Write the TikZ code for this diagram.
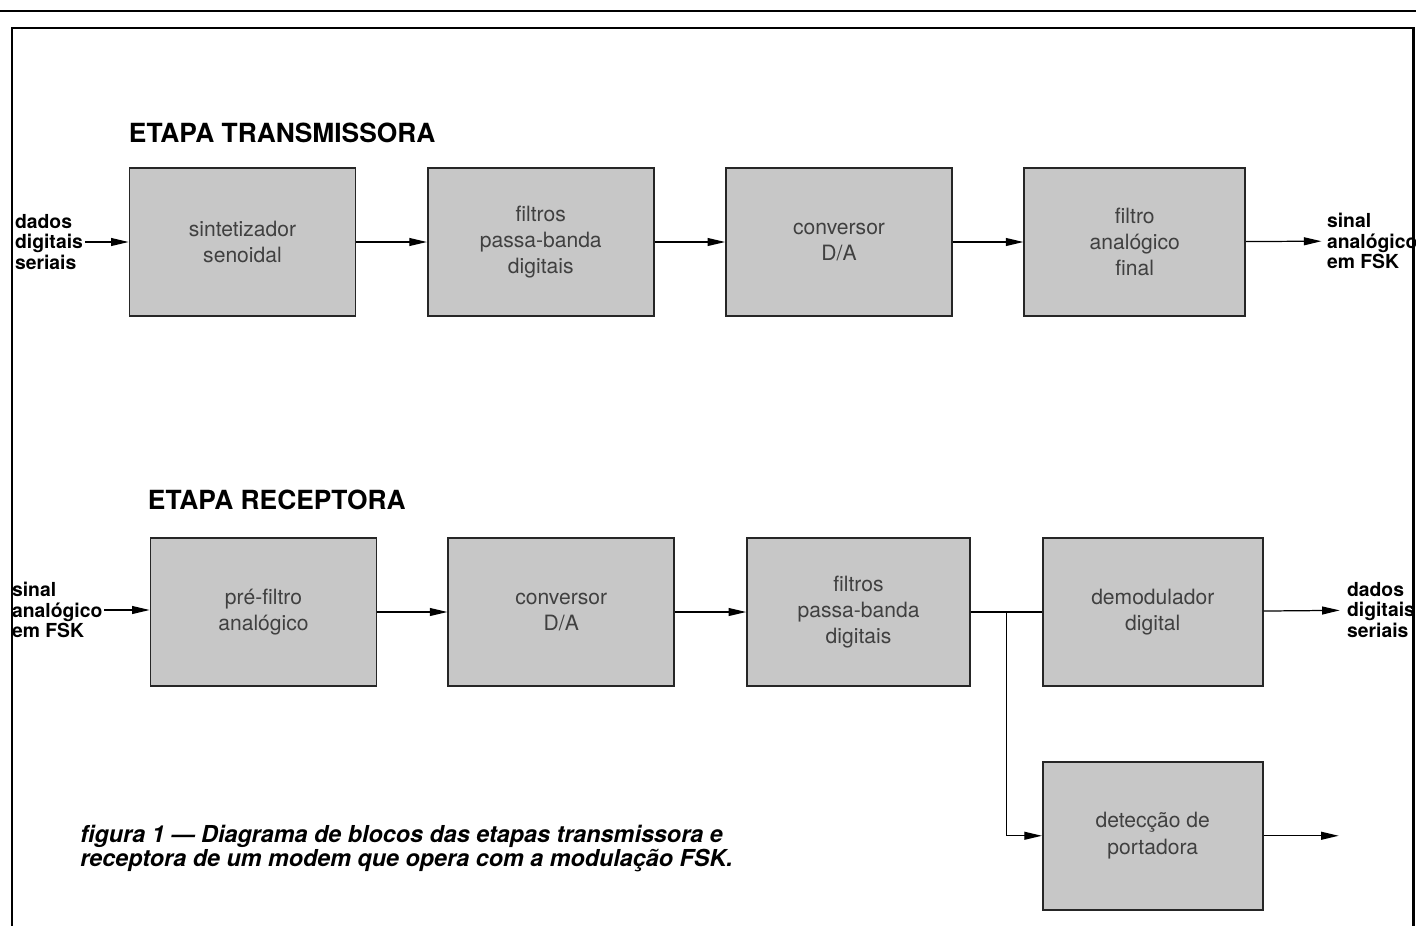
\documentclass[tikz,border=0pt]{standalone}
\usepackage{fontspec}
\setmainfont{TeX Gyre Heros}
\usetikzlibrary{arrows.meta,positioning}

\begin{document}
\begin{tikzpicture}[
  >={Triangle[length=10pt,width=4.5pt]},
  blk/.style={draw=black!85, line width=1pt, fill=black!22, rectangle,
              minimum width=4.52cm, minimum height=2.96cm, align=center,
              text=black!75, font=\fontsize{12}{15}\selectfont},
  io/.style={align=left, inner sep=1pt,
             font=\fontsize{11}{11.8}\selectfont\bfseries},
  ttl/.style={inner sep=0pt, font=\fontsize{15}{18}\selectfont\bfseries},
  arr/.style={->, line width=0.7pt},
  wire/.style={line width=0.7pt}]

\useasboundingbox (0,0) rectangle (28.32,-18.5);

% page rule and frame
\draw[line width=1.6pt] (0,-0.22) -- (28.32,-0.22);
\draw[line width=1.7pt] (0.24,-18.7) |- (28.26,-0.56) -- (28.26,-18.7);

% Transmitter chain
\node[blk]                      (sint) at (4.85,-4.84) {sintetizador\\senoidal};
\node[blk, right=1.41cm of sint] (fpb1) {filtros\\passa-banda\\digitais};
\node[blk, right=1.41cm of fpb1] (da1)  {conversor\\D/A};
\node[blk, right=1.41cm of da1, minimum width=4.42cm] (fin) {filtro\\analógico\\final};

\node[ttl, anchor=base west] (ttx) at ([yshift=0.5cm]sint.north west) {ETAPA TRANSMISSORA};

\node[io, anchor=west] (din)  at (0.26,-4.84) {dados\\digitais\\seriais};
\node[io, anchor=west] (aout) at (26.5,-4.82) {sinal\\analógico\\em FSK};

\draw[arr] (din)  -- (sint);
\draw[arr] (sint) -- (fpb1);
\draw[arr] (fpb1) -- (da1);
\draw[arr] (da1)  -- (fin);
\draw[arr, shorten >=2pt] (fin) -- (aout);

% Receiver chain
\node[blk]                       (pre)  at (5.27,-12.24) {pré-filtro\\analógico};
\node[blk, right=1.4cm of pre]   (da2)  {conversor\\D/A};
\node[blk, right=1.42cm of da2, minimum width=4.46cm] (fpb2) {filtros\\passa-banda\\digitais};
\node[blk, right=1.42cm of fpb2, minimum width=4.4cm] (dem) {demodulador\\digital};
\node[blk, below=1.48cm of dem, minimum width=4.4cm]  (det) {detecção de\\portadora};

\node[ttl, anchor=base west] (trx) at ([xshift=-0.04cm,yshift=0.56cm]pre.north west) {ETAPA RECEPTORA};

\node[io, anchor=west] (ain)  at (0.2,-12.2) {sinal\\analógico\\em FSK};
\node[io, anchor=west] (dout) at (26.9,-12.2) {dados\\digitais\\seriais};
\coordinate[right=1.5cm of det.east] (dend);

\draw[arr] (ain.east) -- (ain.east -| pre.west);
\draw[arr] (pre) -- (da2);
\draw[arr] (da2) -- (fpb2);
\draw[wire] (fpb2) -- (dem);
\path (fpb2) -- coordinate[midway] (split) (dem);
\draw[arr] (split) |- (det);
\draw[arr, shorten >=3pt] (dem) -- (dout);
\draw[arr] (det.east) -- (dend);

% Caption
\node[anchor=north west, align=left, inner sep=0pt,
      font=\fontsize{13.3}{13.7}\selectfont\bfseries\itshape] (cap) at (1.6,-16.5)
  {figura 1 — Diagrama de blocos das etapas transmissora e\\
   receptora de um modem que opera com a modulação FSK.};
\end{tikzpicture}
\end{document}
